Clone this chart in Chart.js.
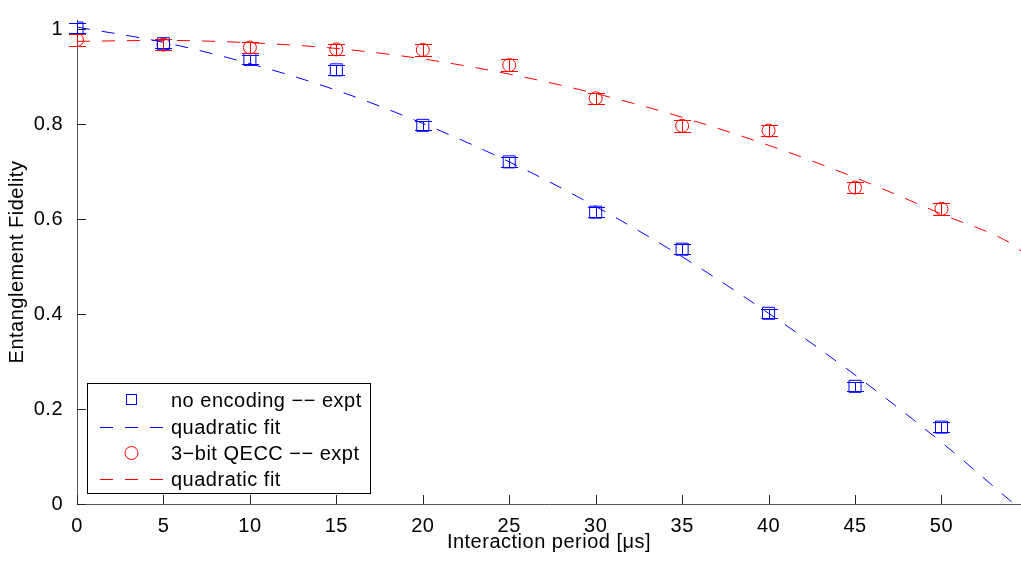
<!DOCTYPE html>
<html>
<head>
<meta charset="utf-8">
<script src="https://cdn.jsdelivr.net/npm/chart.js@4"></script>
<style>
  html, body { margin: 0; padding: 0; background: #fff; overflow: hidden; }
  #wrap { width: 1021px; height: 567px; position: relative; }
</style>
</head>
<body>
<div id="wrap"><canvas id="fidelityChart"></canvas></div>
<script>
// measured points (interaction period in us)
const periods = [0, 5, 10, 15, 20, 25, 30, 35, 40, 45, 50];
const noEncoding = [1.003, 0.970, 0.937, 0.915, 0.798, 0.721, 0.615, 0.537, 0.402, 0.248, 0.162];
const noEncodingErr = [0.01, 0.01, 0.01, 0.01, 0.01, 0.01, 0.01, 0.01, 0.01, 0.01, 0.01];
const qecc = [0.978, 0.968, 0.962, 0.958, 0.957, 0.925, 0.855, 0.797, 0.787, 0.667, 0.622];
const qeccErr = [0.012, 0.012, 0.012, 0.012, 0.012, 0.012, 0.012, 0.012, 0.012, 0.012, 0.012];

// fit curves
const fitX = [0, 5, 10, 15, 20, 25, 30, 35, 40, 45, 50, 54.2, 54.6];
const noEncodingFit = [1.005, 0.973, 0.928, 0.872, 0.802, 0.721, 0.627, 0.521, 0.402, 0.272, 0.130, 0.0, null];
const qeccFit = [0.975, 0.977, 0.972, 0.960, 0.938, 0.906, 0.865, 0.815, 0.756, 0.688, 0.611, 0.545, 0.533];

const xTicks = [0, 5, 10, 15, 20, 25, 30, 35, 40, 45, 50];
const yTicks = [0, 0.2, 0.4, 0.6, 0.8, 1];

const legendItems = [
  { text: 'no encoding −− expt', color: '#0000ff', kind: 'square' },
  { text: 'quadratic fit', color: '#0000ff', kind: 'dash' },
  { text: '3−bit QECC −− expt', color: '#ff0000', kind: 'circle' },
  { text: 'quadratic fit', color: '#ff0000', kind: 'dash' }
];

const FONT = '"Liberation Sans", Arial, Helvetica, sans-serif';
const DASH = [13, 12];

function pts(xs, ys) {
  return xs.map((x, i) => ({ x, y: ys[i] })).filter(p => p.y !== null);
}

// slightly looser text, like the original print
const spacing = {
  id: 'spacing',
  beforeDraw(chart) { chart.ctx.letterSpacing = '0.5px'; }
};

// error bars with caps
const errorBars = {
  id: 'errorBars',
  afterDatasetsDraw(chart) {
    const { ctx, scales: { x, y } } = chart;
    const sets = [
      { ys: noEncoding, err: noEncodingErr, color: '#0000ff' },
      { ys: qecc, err: qeccErr, color: '#ff0000' }
    ];
    ctx.save();
    ctx.lineWidth = 1;
    sets.forEach(s => {
      ctx.strokeStyle = s.color;
      periods.forEach((p, i) => {
        const px = Math.round(x.getPixelForValue(p)) + 0.5;
        const top = Math.round(y.getPixelForValue(s.ys[i] + s.err[i])) + 0.5;
        const bot = Math.round(y.getPixelForValue(s.ys[i] - s.err[i])) + 0.5;
        ctx.beginPath();
        ctx.moveTo(px, top); ctx.lineTo(px, bot);
        ctx.moveTo(px - 8.5, top); ctx.lineTo(px + 8.5, top);
        ctx.moveTo(px - 8.5, bot); ctx.lineTo(px + 8.5, bot);
        ctx.stroke();
      });
    });
    ctx.restore();
  }
};

// MATLAB-style inward ticks
const inwardTicks = {
  id: 'inwardTicks',
  afterDatasetsDraw(chart) {
    const { ctx, chartArea: a, scales: { x, y } } = chart;
    ctx.save();
    ctx.strokeStyle = '#222';
    ctx.lineWidth = 1;
    ctx.beginPath();
    xTicks.forEach(v => {
      const px = Math.round(x.getPixelForValue(v)) + 0.5;
      ctx.moveTo(px, a.bottom); ctx.lineTo(px, a.bottom - 9);
    });
    yTicks.forEach(v => {
      const py = Math.round(y.getPixelForValue(v)) + 0.5;
      ctx.moveTo(a.left, py); ctx.lineTo(a.left + 9, py);
    });
    ctx.stroke();
    ctx.restore();
  }
};

// boxed legend in the lower left
const boxLegend = {
  id: 'boxLegend',
  afterDraw(chart) {
    const { ctx } = chart;
    const left = 87, top = 383, w = 283, h = 110;
    ctx.save();
    ctx.letterSpacing = '0.5px';
    ctx.fillStyle = '#fff';
    ctx.fillRect(left, top, w, h);
    ctx.strokeStyle = '#000';
    ctx.lineWidth = 1;
    ctx.strokeRect(left + 0.5, top + 0.5, w, h);
    const rows = [400, 427, 453, 479];
    ctx.font = '20px ' + FONT;
    ctx.textBaseline = 'middle';
    legendItems.forEach((item, i) => {
      const cy = rows[i];
      if (item.kind === 'square') {
        ctx.strokeStyle = item.color;
        ctx.strokeRect(126.5, cy - 5.5, 10, 10);
      } else if (item.kind === 'circle') {
        ctx.strokeStyle = item.color;
        ctx.beginPath();
        ctx.arc(131.5, cy, 6.5, 0, Math.PI * 2);
        ctx.stroke();
      } else {
        ctx.setLineDash(DASH);
        ctx.strokeStyle = item.color;
        ctx.beginPath();
        ctx.moveTo(100, cy + 0.5); ctx.lineTo(163, cy + 0.5);
        ctx.stroke();
        ctx.setLineDash([]);
      }
      ctx.fillStyle = '#000';
      ctx.fillText(item.text, 171, cy + 1);
    });
    ctx.restore();
  }
};

new Chart(document.getElementById('fidelityChart'), {
  type: 'scatter',
  data: {
    datasets: [
      {
        label: 'no encoding -- expt',
        data: pts(periods, noEncoding),
        pointStyle: 'rect',
        pointRadius: 8.5,
        borderColor: '#0000ff',
        backgroundColor: 'rgba(0,0,0,0)',
        borderWidth: 1
      },
      {
        label: 'quadratic fit',
        type: 'line',
        data: pts(fitX, noEncodingFit),
        borderColor: '#0000ff',
        borderWidth: 1,
        borderDash: DASH,
        pointRadius: 0,
        cubicInterpolationMode: 'monotone',
        fill: false
      },
      {
        label: '3-bit QECC -- expt',
        data: pts(periods, qecc),
        pointStyle: 'circle',
        pointRadius: 6.5,
        borderColor: '#ff0000',
        backgroundColor: 'rgba(0,0,0,0)',
        borderWidth: 1
      },
      {
        label: 'quadratic fit',
        type: 'line',
        data: pts(fitX, qeccFit),
        borderColor: '#ff0000',
        borderWidth: 1,
        borderDash: DASH,
        pointRadius: 0,
        cubicInterpolationMode: 'monotone',
        fill: false
      }
    ]
  },
  options: {
    responsive: true,
    maintainAspectRatio: false,
    animation: false,
    events: [],
    layout: { autoPadding: false, padding: { top: 20, right: 0, left: 0, bottom: 0 } },
    plugins: {
      legend: { display: false },
      tooltip: { enabled: false }
    },
    scales: {
      x: {
        type: 'linear',
        min: 0,
        max: 54.6,
        afterBuildTicks: (s) => { s.ticks = xTicks.map(v => ({ value: v })); },
        afterFit: (s) => { s.height = 63; s.paddingRight = 0; s.paddingLeft = 0; },
        grid: { display: false },
        border: { display: true, color: '#555', width: 1 },
        ticks: {
          color: '#000',
          padding: 2,
          maxRotation: 0,
          font: { family: FONT, size: 20 },
          callback: (v) => String(v)
        },
        title: {
          display: true,
          text: 'Interaction period [μs]',
          color: '#000',
          padding: { top: 0, bottom: 13 },
          font: { family: FONT, size: 20 }
        }
      },
      y: {
        min: 0,
        max: 1.02,
        afterBuildTicks: (s) => { s.ticks = yTicks.map(v => ({ value: v })); },
        afterFit: (s) => { s.width = 77; s.paddingTop = 0; s.paddingBottom = 0; },
        grid: { display: false },
        border: { display: true, color: '#555', width: 1 },
        ticks: {
          color: '#000',
          padding: 6,
          font: { family: FONT, size: 20 },
          callback: (v) => String(Math.round(v * 10) / 10)
        },
        title: {
          display: true,
          text: 'Entanglement Fidelity',
          color: '#000',
          padding: { top: 5, bottom: 0 },
          font: { family: FONT, size: 20 }
        }
      }
    }
  },
  plugins: [spacing, errorBars, inwardTicks, boxLegend]
});
</script>
</body>
</html>
